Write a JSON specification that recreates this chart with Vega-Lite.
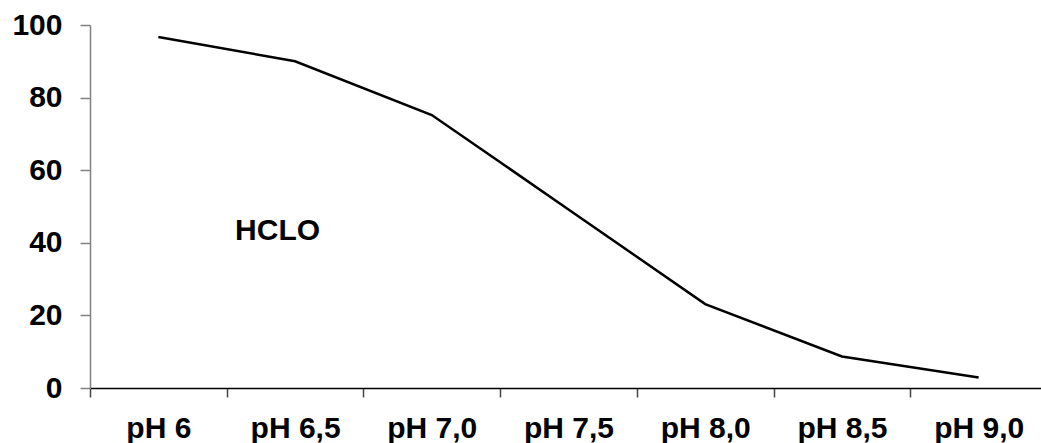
{
  "$schema": "https://vega.github.io/schema/vega-lite/v6.json",
  "autosize": {"type": "none"},
  "padding": {"left": 90, "top": 25, "right": 0, "bottom": 55},
  "width": 951,
  "height": 363,
  "background": "white",
  "config": {"view": {"stroke": null}, "font": "Liberation Sans"},
  "data": {
    "values": [
      {"ph": "pH 6", "v": 96.7, "lbl": ""},
      {"ph": "pH 6,5", "v": 90, "lbl": "HCLO"},
      {"ph": "pH 7,0", "v": 75.2, "lbl": ""},
      {"ph": "pH 7,5", "v": 49.2, "lbl": ""},
      {"ph": "pH 8,0", "v": 23.1, "lbl": ""},
      {"ph": "pH 8,5", "v": 8.7, "lbl": ""},
      {"ph": "pH 9,0", "v": 2.9, "lbl": ""}
    ]
  },
  "encoding": {
    "x": {
      "field": "ph", "type": "nominal", "sort": null,
      "scale": {"range": [0, 957], "paddingInner": 0, "paddingOuter": 0},
      "axis": {
        "title": null, "labelAngle": 0, "labelFont": "Liberation Sans", "labelFontWeight": "bold",
        "labelFontSize": 30, "labelColor": "black", "labelPadding": 16,
        "domainColor": "black", "domainWidth": 1.5, "tickColor": "#444", "tickWidth": 1.5,
        "tickSize": 9, "tickBand": "extent", "grid": false
      }
    }
  },
  "layer": [
    {
      "mark": {"type": "line", "color": "black", "strokeWidth": 2.5},
      "encoding": {
        "y": {
          "field": "v", "type": "quantitative",
          "scale": {"domain": [0, 100], "nice": false},
          "axis": {
            "title": null, "values": [0, 20, 40, 60, 80, 100], "labelFont": "Liberation Sans",
            "labelFontWeight": "bold", "labelFontSize": 30, "labelColor": "black", "labelPadding": 18,
            "domainColor": "#808080", "domainWidth": 1.5, "tickColor": "#808080", "tickWidth": 1.5,
            "tickSize": 10, "grid": false
          }
        }
      }
    },
    {
      "transform": [{"filter": "datum.lbl != ''"}],
      "mark": {"type": "text", "font": "Liberation Sans", "fontWeight": "bold", "fontSize": 30, "color": "black", "dx": -17.5, "align": "center", "baseline": "middle"},
      "encoding": {
        "text": {"field": "lbl"},
        "y": {"datum": 43.3, "type": "quantitative"}
      }
    }
  ]
}
